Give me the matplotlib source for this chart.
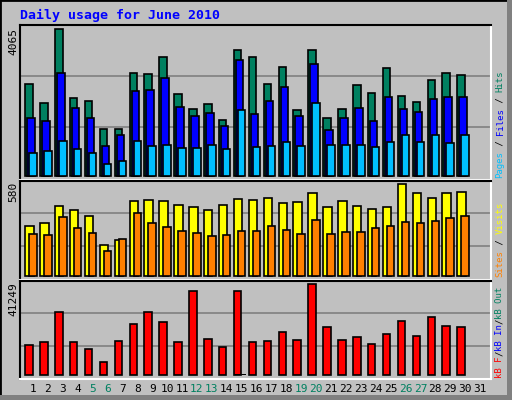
import matplotlib
matplotlib.use("Agg")
import matplotlib.pyplot as plt
from matplotlib.patches import Rectangle

W, H = 512, 400

days = list(range(1, 32))
weekend = [5, 6, 12, 13, 19, 20, 26, 27]

hits = [2544, 2019, 4065, 2157, 2074, 1300, 1300, 2848, 2821, 3291, 2268, 1853, 1991, 1549, 3484,
        3291, 2544, 3014, 1825, 3484, 1604, 1853, 2517, 2295, 2987, 2212, 2046, 2655, 2848, 2793]
files = [1604, 1521, 2848, 1880, 1604, 830, 1134, 2351, 2378, 2710, 1908, 1659, 1742, 1383, 3208,
         1715, 2074, 2461, 1659, 3097, 1272, 1604, 1880, 1521, 2185, 1853, 1770, 2129, 2185, 2185]
pages = [636, 691, 968, 747, 636, 332, 415, 968, 830, 857, 774, 774, 857, 747, 1825,
         802, 830, 940, 830, 2019, 857, 857, 857, 802, 940, 1134, 940, 1134, 913, 1134]
visits = [315, 334, 441, 416, 378, 195, 227, 473, 479, 473, 448, 435, 416, 448, 485,
          479, 492, 460, 466, 523, 435, 473, 441, 422, 435, 580, 523, 492, 523, 529]
sites = [265, 258, 372, 303, 271, 158, 233, 397, 334, 309, 284, 271, 252, 258, 284,
         284, 315, 290, 265, 353, 265, 277, 277, 303, 315, 340, 334, 347, 366, 378]
kbytes = [13599, 14959, 28558, 14959, 11786, 5893, 15412, 23118, 28558, 24025, 14959, 38077, 16319,
          12692, 38077, 14959, 15412, 19492, 15865, 41249, 21758, 15865, 17225, 14052, 18585,
          24478, 17678, 26291, 22211, 21758]
kb_out = [0] * 14 + [500] + [0] * 15

BG = "#C0C0C0"
C_HITS, C_FILES, C_PAGES = "#008060", "#0000FF", "#00BFFF"
C_VISITS, C_SITES, C_KB = "#FFFF00", "#FF8000", "#FF0000"
C_GREEN = "#008060"
MONO = "DejaVu Sans Mono"

fig = plt.figure(figsize=(W / 100, H / 100), dpi=100, facecolor=BG)

# outer border
fig.add_artist(Rectangle((0, 0), 1, 1, transform=fig.transFigure, fill=False, ec="black", lw=2))
fig.add_artist(Rectangle((1 - 5 / W, 0), 5 / W, 1, transform=fig.transFigure, fc="#808080", ec="none"))
fig.add_artist(Rectangle((0, 0), 1, 5 / H, transform=fig.transFigure, fc="#808080", ec="none"))


def panel(top, base, bottom, ymax):
    x0, x1 = 20, 491
    ax = fig.add_axes([x0 / W, 1 - bottom / H, (x1 - x0) / W, (bottom - top) / H])
    ax.set_facecolor(BG)
    ymin = -ymax * (bottom - base) / (base - top)
    ax.set_ylim(ymin, ymax)
    ax.set_xlim((20 - 33) / 14.9 + 1, (491 - 33) / 14.9 + 1)
    ax.set_xticks([])
    ax.set_yticks([])
    for s in ("top", "left"):
        ax.spines[s].set_color("black")
        ax.spines[s].set_linewidth(1.5)
    for s in ("bottom", "right"):
        ax.spines[s].set_color("white")
        ax.spines[s].set_linewidth(1.5)
    return ax


def bars(ax, vals, off, width, color):
    xs = [d + off for d in days[:len(vals)]]
    ax.bar(xs, vals, width=width, align="edge", color=color, edgecolor="black", linewidth=1.2, zorder=3)


# top panel: hits / files / pages
ax1 = panel(25, 176.3, 180, 4185)
for g in (1355, 2765):
    ax1.axhline(g, color="#808080", lw=1.2, zorder=1)
bars(ax1, hits, -0.517, 0.5, C_HITS)
bars(ax1, files, -0.383, 0.5, C_FILES)
bars(ax1, pages, -0.25, 0.5, C_PAGES)

# middle panel: visits / sites
ax2 = panel(180.7, 276.3, 280, 603)
for g in (189, 397):
    ax2.axhline(g, color="#808080", lw=1.2, zorder=1)
bars(ax2, visits, -0.517, 0.56, C_VISITS)
bars(ax2, sites, -0.25, 0.5, C_SITES)

# bottom panel: kB
ax3 = panel(280.7, 375.3, 379, 42911)
for g in (13300, 28100):
    ax3.axhline(g, color="#808080", lw=1.2, zorder=1)
bars(ax3, kbytes, -0.517, 0.5, C_KB)
ax3.bar([15 - 0.45], [kb_out[14]], width=0.75, align="edge", color="black", zorder=4)

# day labels
for d in days:
    fig.text((33 + 14.9 * (d - 1)) / W, 1 - 389 / H, str(d), ha="center", va="center",
             fontsize=8, family=MONO, color=C_GREEN if d in weekend else "black")

fig.text(20 / W, 1 - 15 / H, "Daily usage for June 2010", ha="left", va="center",
         fontsize=9.5, family=MONO, weight="bold", color="#0000FF")

# max labels
for y, txt in ((28, "4065"), (182, "580"), (282, "41249")):
    fig.text(13 / W, 1 - y / H, txt, rotation=90, ha="center", va="top", fontsize=8, family=MONO)


# right legend labels (bottom to top)
def side_label(ybottom, parts):
    y = 1 - ybottom / H
    fig.canvas.draw()
    for txt, col in parts:
        t = fig.text(500 / W, y, txt, rotation=90, ha="center", va="bottom",
                     fontsize=6.5, family=MONO, color=col)
        bb = t.get_window_extent(renderer=fig.canvas.get_renderer())
        y += bb.height / H


side_label(178, [("Pages", C_PAGES), (" / ", "black"), ("Files", C_FILES), (" / ", "black"), ("Hits", C_HITS)])
side_label(277, [("Sites", C_SITES), (" / ", "black"), ("Visits", C_VISITS)])
side_label(378, [("kB F", C_KB), ("/", "black"), ("kB In", C_FILES), ("/", "black"), ("kB Out", C_GREEN)])

fig.savefig("out.png", dpi=100, facecolor=BG)
